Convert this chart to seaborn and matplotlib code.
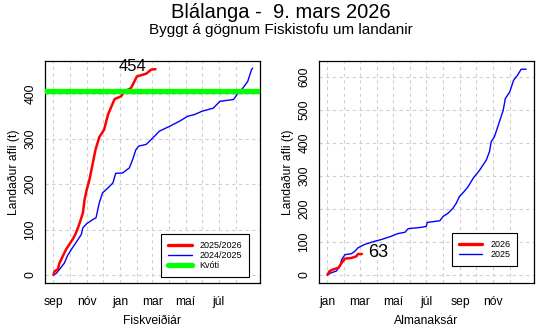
import numpy as np
import pandas as pd
import matplotlib
matplotlib.use("Agg")
import matplotlib.pyplot as plt
import seaborn as sns
from matplotlib.lines import Line2D

# ---------------- data ----------------
# Fiscal year (days since 1 Sep)
fy_2526_day = [0, 2, 8, 11, 17, 23, 29, 35, 40, 45, 49, 54, 57, 61, 66, 71, 77, 84, 93,
               100, 106, 112, 124, 130, 142, 153, 170, 179, 187]
fy_2526_val = [0, 8, 12, 26, 41, 56, 67, 78, 89, 104, 118, 137, 166, 188, 210, 240, 276, 304, 321,
               354, 371, 388, 394, 405, 412, 438, 444, 453, 454]
fy_2425_day = [0, 5, 11, 20, 26, 35, 45, 51, 54, 61, 72, 78, 84, 90, 100, 109, 114, 127, 139,
               145, 151, 156, 170, 182, 194, 213, 231, 246, 259, 272, 293, 305, 330, 338, 347,
               356, 363, 365]
fy_2425_val = [0, 3, 12, 26, 43, 60, 78, 89, 104, 113, 122, 126, 159, 181, 192, 203, 224, 225, 236,
               254, 276, 284, 288, 302, 317, 328, 339, 350, 354, 361, 368, 383, 387, 401, 412,
               427, 453, 456]
quota = 405

# Calendar year (days since 1 Jan)
cy_2026_day = [0, 4, 10, 20, 26, 32, 44, 53, 56, 63]
cy_2026_val = [0, 11, 16, 21, 36, 49, 51, 56, 63, 63]
cy_2025_day = [0, 7, 16, 23, 26, 32, 44, 50, 56, 68, 87, 99, 117, 129, 142, 148, 172, 181, 183,
               197, 206, 212, 221, 230, 236, 242, 248, 258, 267, 279, 291, 297, 300, 306, 310,
               316, 322, 326, 334, 341, 348, 355, 364]
cy_2025_val = [0, 6, 11, 26, 46, 61, 64, 71, 82, 92, 102, 107, 117, 125, 129, 140, 144, 147, 159,
               162, 164, 177, 187, 202, 217, 238, 248, 268, 293, 318, 348, 374, 404, 419, 439,
               469, 499, 535, 555, 590, 605, 624, 624]

fy_month_starts = [0, 30, 61, 91, 122, 153, 181, 212, 242, 273, 303, 334]
fy_tick_labels = ["sep", "nóv", "jan", "mar", "maí", "júl"]
cy_month_starts = [0, 31, 59, 90, 120, 151, 181, 212, 243, 273, 304, 334]
cy_tick_labels = ["jan", "mar", "maí", "júl", "sep", "nóv"]

title = "Blálanga -  9. mars 2026"
subtitle = "Byggt á gögnum Fiskistofu um landanir"
ylabel = "Landaður afli (t)"

# ---------------- style ----------------
sns.set_style("white")
plt.rcParams["font.family"] = ["Liberation Sans", "DejaVu Sans"]
for k in ["text.color", "axes.labelcolor", "xtick.color", "ytick.color", "axes.edgecolor"]:
    plt.rcParams[k] = "black"

W, H = 555, 333
fig = plt.figure(figsize=(W / 100, H / 100), dpi=100)

def frac_axes(x0, y0, x1, y1):
    return fig.add_axes([x0 / W, 1 - y1 / H, (x1 - x0) / W, (y1 - y0) / H])

ax1 = frac_axes(45, 61, 260, 283)
ax2 = frac_axes(319, 61, 534, 283)

red, blue, green = "#FF0000", "#0000FF", "#00FF00"
lw_red, lw_blue, lw_green = 1.8, 1.0, 3.8

df1a = pd.DataFrame({"d": fy_2526_day, "v": fy_2526_val})
df1b = pd.DataFrame({"d": fy_2425_day, "v": fy_2425_val})
df2a = pd.DataFrame({"d": cy_2026_day, "v": cy_2026_val})
df2b = pd.DataFrame({"d": cy_2025_day, "v": cy_2025_val})

def style_axes(ax, month_starts, labels, ylim, yticks):
    ax.set_xlim(-15.5, 378.5)
    ax.set_ylim(*ylim)
    for m in month_starts:
        ax.axvline(m, color="#CFCFCF", lw=0.8, ls=(0, (3, 3)), zorder=0)
    for yt in yticks:
        ax.axhline(yt, color="#CFCFCF", lw=0.8, ls=(0, (3, 3)), zorder=0)
    ax.set_xticks(month_starts[::2])
    ax.set_xticklabels(labels)
    ax.set_yticks(yticks)
    ax.set_yticklabels([str(t) for t in yticks], rotation=90, va="center")
    ax.tick_params(axis="both", direction="out", length=3.6, width=0.8,
                   labelsize=8.7, color="black", labelcolor="black", pad=2.5)
    ax.tick_params(axis="x", pad=5.5)
    for s in ax.spines.values():
        s.set_visible(True)
        s.set_color("black")
        s.set_linewidth(0.9)
    ax.set_ylabel(ylabel, fontsize=8.7, labelpad=3, color="black")

# left panel
sns.lineplot(data=df1b, x="d", y="v", ax=ax1, color=blue, lw=lw_blue, estimator=None, sort=False)
sns.lineplot(data=df1a, x="d", y="v", ax=ax1, color=red, lw=lw_red, estimator=None, sort=False)
ax1.axhline(quota, color=green, lw=lw_green, zorder=3)
style_axes(ax1, fy_month_starts, fy_tick_labels, (-18, 472), [0, 100, 200, 300, 400])
ax1.set_xlabel("Fiskveiðiár", fontsize=8.7, labelpad=5, color="black")
ax1.text(144, 459, str(fy_2526_val[-1]), fontsize=12, ha="center", va="center", color="black")
h1 = [Line2D([], [], color=red, lw=lw_red + 0.6), Line2D([], [], color=blue, lw=lw_blue),
      Line2D([], [], color=green, lw=lw_green)]
leg1 = ax1.legend(h1, ["2025/2026", "2024/2025", "Kvóti"], loc="lower right",
                  bbox_to_anchor=(0.949, 0.027), fontsize=6.5, frameon=True, fancybox=False,
                  edgecolor="black", framealpha=1, borderpad=0.75, handlelength=2.6,
                  labelspacing=0.12, handletextpad=0.9, borderaxespad=0)
leg1.get_frame().set_linewidth(0.8)

# right panel
sns.lineplot(data=df2b, x="d", y="v", ax=ax2, color=blue, lw=lw_blue, estimator=None, sort=False)
sns.lineplot(data=df2a, x="d", y="v", ax=ax2, color=red, lw=lw_red, estimator=None, sort=False)
style_axes(ax2, cy_month_starts, cy_tick_labels, (-25, 649), [0, 100, 200, 300, 400, 500, 600])
ax2.set_xlabel("Almanaksár", fontsize=8.7, labelpad=5, color="black")
ax2.text(93, 68, str(cy_2026_val[-1]), fontsize=13, ha="center", va="center", color="black")
h2 = [Line2D([], [], color=red, lw=lw_red + 0.6), Line2D([], [], color=blue, lw=lw_blue)]
leg2 = ax2.legend(h2, ["2026", "2025"], loc="lower right",
                  bbox_to_anchor=(0.921, 0.077), fontsize=6.5, frameon=True, fancybox=False,
                  edgecolor="black", framealpha=1, borderpad=0.75, handlelength=2.6,
                  labelspacing=0.12, handletextpad=0.9, borderaxespad=0)
leg2.get_frame().set_linewidth(0.8)

fig.text(281 / W, 1 - 13 / H, title, fontsize=14.5, ha="center", va="center", color="black")
fig.text(281 / W, 1 - 30 / H, subtitle, fontsize=11, ha="center", va="center", color="black")

fig.savefig("out.png", dpi=100)
